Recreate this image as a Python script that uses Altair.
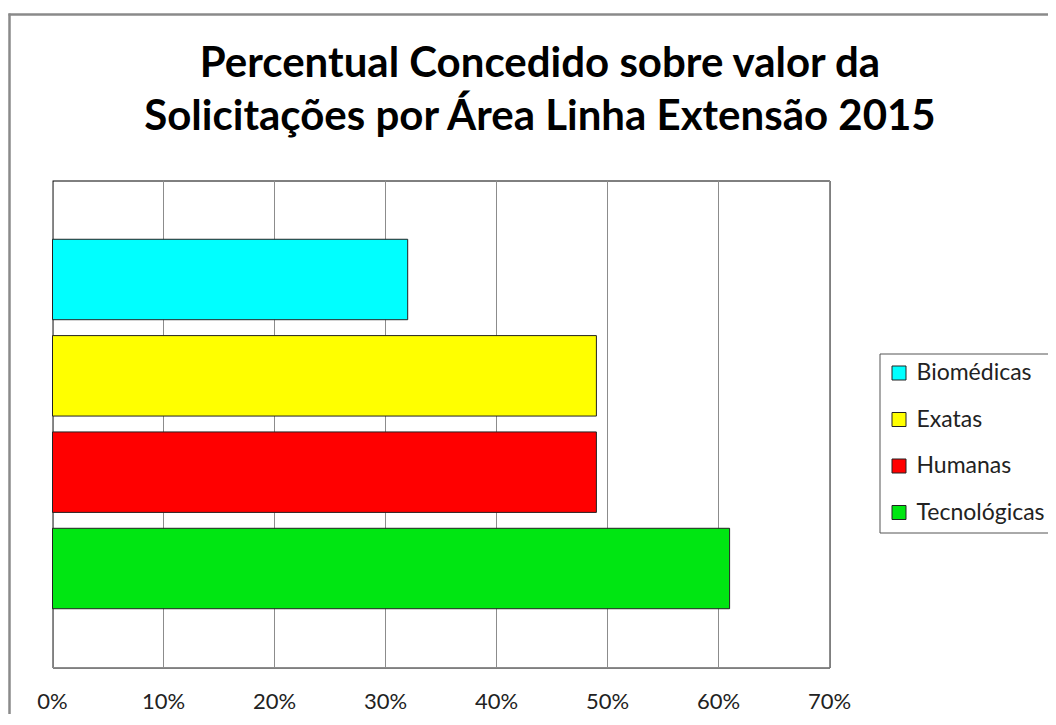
import altair as alt
import pandas as pd

categories = ["Biomédicas", "Exatas", "Humanas", "Tecnológicas"]
values = [0.32, 0.49, 0.49, 0.61]
colors = ["#00FFFF", "#FFFF00", "#FF0000", "#00E612"]
ticks = [0, 0.1, 0.2, 0.3, 0.4, 0.5, 0.6, 0.7]
title_lines = ["Percentual Concedido sobre valor da", "Solicitações por Área Linha Extensão 2015"]

df = pd.DataFrame({"Área": categories, "Percentual": values})

bars = alt.Chart(df).mark_bar(stroke="#222222", strokeWidth=1).encode(
    x=alt.X("Percentual:Q",
            scale=alt.Scale(domain=[0, 0.7], nice=False),
            axis=alt.Axis(values=ticks, format=".0%", title=None, grid=True,
                          gridColor="#8c8c8c", gridWidth=1,
                          domainColor="#8c8c8c", domainWidth=1, translate=0,
                          ticks=False, tickSize=0, labelPadding=24, labelFlush=False,
                          labelFont="Lato", labelFontSize=22, labelColor="#222222")),
    y=alt.Y("Área:N", sort=categories, axis=None,
            scale=alt.Scale(paddingInner=0.165, paddingOuter=0.61)),
    color=alt.Color("Área:N", sort=categories,
                    scale=alt.Scale(domain=categories, range=colors),
                    legend=alt.Legend(title=None, orient="none", legendX=827, legendY=173,
                                      symbolType="square", symbolSize=196,
                                      symbolStrokeColor="#222222", symbolStrokeWidth=1,
                                      labelFont="Lato", labelFontSize=23, labelColor="#222222",
                                      labelOffset=6, rowPadding=22.5, padding=8,
                                      strokeColor="#555555", fillColor="#ffffff")),
)

border = alt.Chart(alt.Data(values=[{}])).mark_rule(color="#8a8a8a", strokeWidth=2.5).encode(
    x=alt.value(-43), x2=alt.value(-43), y=alt.value(-167), y2=alt.value(600)
)
border_top = alt.Chart(alt.Data(values=[{}])).mark_rule(color="#8a8a8a", strokeWidth=2.5).encode(
    x=alt.value(-44), x2=alt.value(1100), y=alt.value(-166), y2=alt.value(-166)
)

chart = alt.layer(bars, border, border_top).properties(
    width=777, height=487,
    padding={"left": 44.5, "top": 172.5, "right": 218.5, "bottom": 46.5},
    autosize=alt.AutoSizeParams(type="none"),
    title=alt.TitleParams(title_lines, font="Lato", fontSize=42, fontWeight="bold",
                          color="#000000", anchor="middle", dx=99, offset=-127, lineHeight=53),
).configure(
    background="#ffffff",
    view=alt.ViewConfig(stroke="#000000", strokeWidth=1),
)

chart.save("out.html", embed_options={"renderer": "svg", "actions": False})
